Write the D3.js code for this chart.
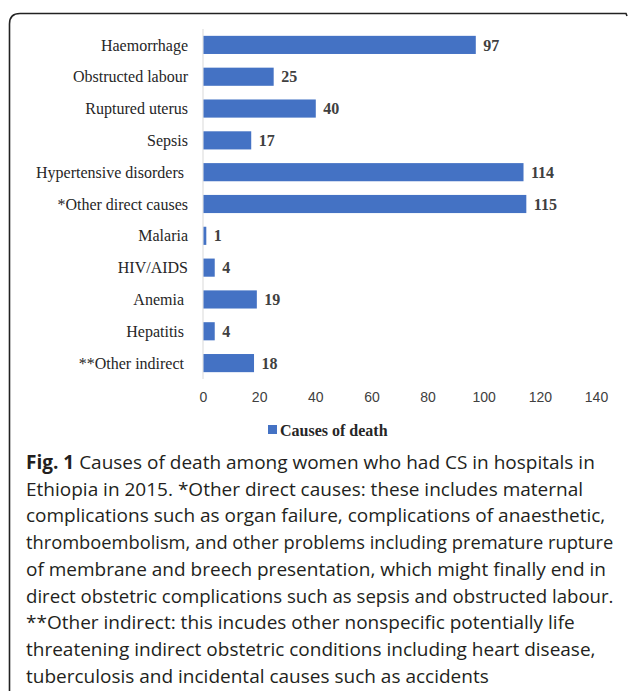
<!DOCTYPE html>
<html>
<head>
<meta charset="utf-8">
<script src="https://cdn.jsdelivr.net/npm/d3@7"></script>
<style>
  body { margin: 0; background: #fff; }
  svg { display: block; }
</style>
</head>
<body>
<svg width="628" height="691"></svg>
<script>
// categories, top to bottom
var causes = ['Haemorrhage', 'Obstructed labour', 'Ruptured uterus', 'Sepsis',
  'Hypertensive disorders ', '*Other direct causes', 'Malaria', 'HIV/AIDS',
  'Anemia ', 'Hepatitis ', '**Other indirect ']
var deaths = [97, 25, 40, 17, 114, 115, 1, 4, 19, 4, 18]
var xTicks = [0, 20, 40, 60, 80, 100, 120, 140]
var seriesName = 'Causes of death'

var captionLines = [
  'Causes of death among women who had CS in hospitals in',
  'Ethiopia in 2015. *Other direct causes: these includes maternal',
  'complications such as organ failure, complications of anaesthetic,',
  'thromboembolism, and other problems including premature rupture',
  'of membrane and breech presentation, which might finally end in',
  'direct obstetric complications such as sepsis and obstructed labour.',
  '**Other indirect: this incudes other nonspecific potentially life',
  'threatening indirect obstetric conditions including heart disease,',
  'tuberculosis and incidental causes such as accidents'
]

var data = causes.map(function (c, i) {
  return { name: c, value: deaths[i] }
})

var svg = d3.select('svg')

// figure frame (rounded top-left, open at bottom/right)
svg.append('path')
    .attr('d', 'M9.5,691 L9.5,24 Q9.5,13.5 20,13.5 L626,13.5 L627,16')
    .attr('fill', 'none')
    .attr('stroke', '#222')
    .attr('stroke-width', 1.6)

var x = d3.scaleLinear()
    .domain([0, 140])
    .range([203, 596])

var y = d3.scaleBand()
    .domain(causes)
    .range([29, 379])
    .paddingInner(0.43)
    .paddingOuter(0.215)

var serif = '"Liberation Serif", "Times New Roman", serif'

// axis line
svg.append('line')
    .attr('x1', x(0)).attr('x2', x(0))
    .attr('y1', 29).attr('y2', 379)
    .attr('stroke', '#d9d9d9')
    .attr('stroke-width', 1)

svg.selectAll('rect.bar')
    .data(data)
    .enter()
    .append('rect')
    .attr('class', 'bar')
    .attr('x', x(0) + 0.5)
    .attr('y', function (d) { return y(d.name) })
    .attr('width', function (d) { return x(d.value) - x(0) })
    .attr('height', y.bandwidth())
    .attr('fill', '#4472c4')

// category labels
svg.selectAll('text.cat')
    .data(data)
    .enter()
    .append('text')
    .attr('class', 'cat')
    .attr('x', x(0) - 15)
    .attr('y', function (d) { return y(d.name) + y.bandwidth() / 2 })
    .attr('dy', '0.35em')
    .attr('text-anchor', 'end')
    .style('font-family', serif)
    .style('font-size', '16px')
    .style('fill', '#262626')
    .style('white-space', 'pre')
    .text(function (d) { return d.name })

// value labels
svg.selectAll('text.val')
    .data(data)
    .enter()
    .append('text')
    .attr('class', 'val')
    .attr('x', function (d) { return x(d.value) + 8 })
    .attr('y', function (d) { return y(d.name) + y.bandwidth() / 2 })
    .attr('dy', '0.35em')
    .style('font-family', serif)
    .style('font-size', '16px')
    .style('font-weight', 'bold')
    .style('fill', '#404040')
    .text(function (d) { return d.value })

// x axis (labels only)
var xAxis = svg.append('g')
    .attr('transform', 'translate(0,392)')
    .call(d3.axisBottom(x).tickValues(xTicks).tickSize(0).tickPadding(0))
xAxis.select('.domain').remove()
xAxis.selectAll('text')
    .style('font-family', '"Liberation Sans", Arial, sans-serif')
    .style('font-size', '14px')
    .style('fill', '#404040')

// legend
var legend = svg.append('g').attr('transform', 'translate(268,425)')
legend.append('rect')
    .attr('width', 9).attr('height', 9)
    .attr('fill', '#4472c4')
legend.append('text')
    .attr('x', 12).attr('y', 5)
    .attr('dy', '0.35em')
    .style('font-family', serif)
    .style('font-size', '16px')
    .style('font-weight', 'bold')
    .style('fill', '#262626')
    .text(seriesName)

// caption, one text per line; shrink a line that would run past the frame
var maxW = 588
captionLines.forEach(function (line, i) {
  var t = svg.append('text')
      .attr('x', 26)
      .attr('y', 469 + i * 26.7)
      .style('font-family', '"Open Sans", sans-serif')
      .style('font-size', '19px')
      .style('fill', '#231f20')
  if (i === 0) {
    t.append('tspan').style('font-weight', 'bold').text('Fig. 1 ')
    t.append('tspan').text(line)
  } else {
    t.text(line)
  }
  var w = t.node().getComputedTextLength()
  if (w > maxW) {
    t.style('font-size', (19 * maxW / w).toFixed(2) + 'px')
  }
})
</script>
</body>
</html>
